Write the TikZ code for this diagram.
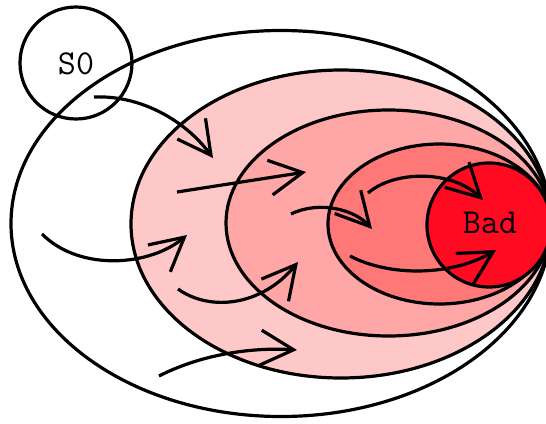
\documentclass[tikz,border=0pt]{standalone}
\usetikzlibrary{arrows.meta}
\definecolor{ringA}{RGB}{255,200,200}
\definecolor{ringB}{RGB}{255,166,166}
\definecolor{ringC}{RGB}{255,120,120}
\definecolor{badred}{RGB}{255,10,32}
\tikzset{
  region/.style={draw=black, line width=3.2pt},
  flow/.style={line width=3.2pt, -{Straight Barb[length=33pt,width=35pt]}},
  statelabel/.style={font=\ttfamily\fontsize{35}{35}\selectfont, inner sep=0pt}
}
\begin{document}
\begin{tikzpicture}[x=1pt,y=-1pt]
\useasboundingbox (0,0) rectangle (546,423);
\begin{scope}
\clip (0,0) rectangle (546,423);
% nested regions, all touching at the right
\filldraw[region, fill=white]  (281,223.5) ellipse [x radius=270, y radius=193];
\filldraw[region, fill=ringA]  (341,224)   ellipse [x radius=210, y radius=154];
\filldraw[region, fill=ringB]  (388.5,223) ellipse [x radius=162.5, y radius=113];
\filldraw[region, fill=ringC]  (439.5,224) ellipse [x radius=111.5, y radius=80];
\filldraw[region, fill=badred] (489,225)   circle [radius=62];
\end{scope}
% states
\node[statelabel] (bad) at (490,223) {Bad};
\draw[region] (76,63) circle [radius=56];
\node[statelabel] (s0) at (76,64) {S0};
% flow arrows
\coordinate (a1s) at (94,97);   \coordinate (a1e) at (213,158);
\coordinate (a2s) at (177,192); \coordinate (a2e) at (306,172);
\coordinate (a3s) at (42,234);  \coordinate (a3e) at (187,235);
\coordinate (a4s) at (178,289); \coordinate (a4e) at (298,262);
\coordinate (a5s) at (159,376); \coordinate (a5e) at (297,350);
\coordinate (a6s) at (291,214); \coordinate (a6e) at (372,229);
\coordinate (a7s) at (368,193); \coordinate (a7e) at (483,200);
\coordinate (a8s) at (350,256); \coordinate (a8e) at (496,250);
\draw[flow] (a1s) .. controls (140,95) and (185,120) .. (a1e);
\draw[flow] (a2s) -- (a2e);
\draw[flow] (a3s) .. controls (80,272) and (150,266) .. (a3e);
\draw[flow] (a4s) .. controls (210,312) and (262,306) .. (a4e);
\draw[flow] (a5s) .. controls (200,355) and (250,347) .. (a5e);
\draw[flow] (a6s) .. controls (320,200) and (355,210) .. (a6e);
\draw[flow] (a7s) .. controls (395,170) and (452,170) .. (a7e);
\draw[flow] (a8s) .. controls (390,277) and (452,276) .. (a8e);
\end{tikzpicture}
\end{document}
